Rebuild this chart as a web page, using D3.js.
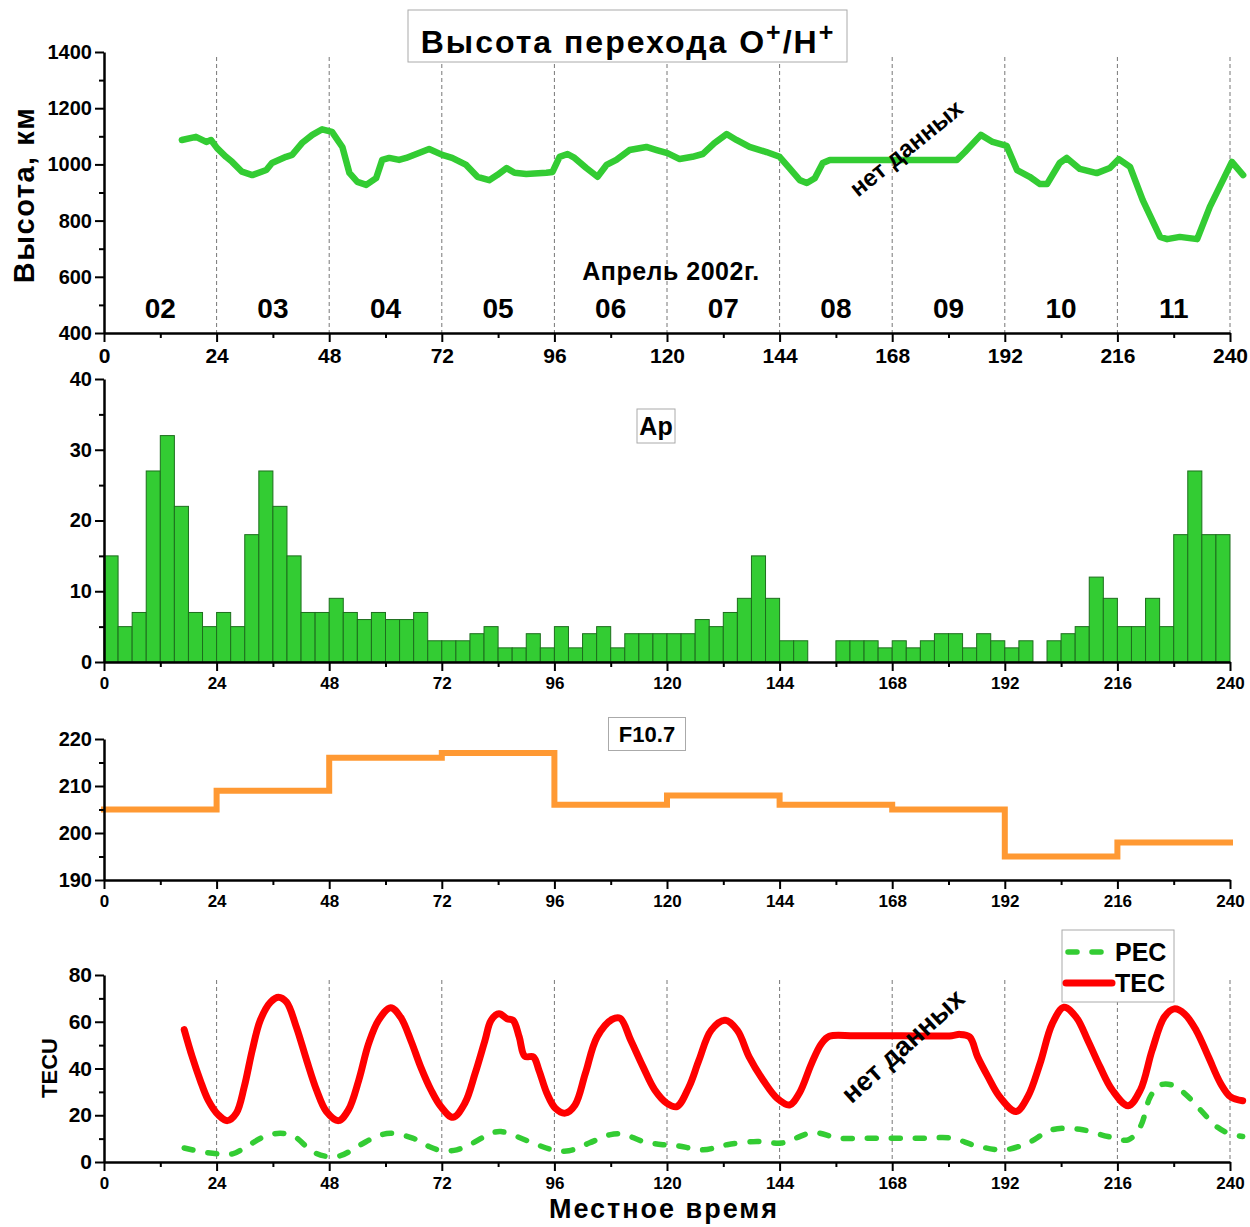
<!DOCTYPE html>
<html>
<head>
<meta charset="utf-8">
<title>Высота перехода O+/H+</title>
<script src="https://d3js.org/d3.v7.min.js"></script>
<style>
    body { margin: 0; background: #fff; }
    text { font-family: "Liberation Sans", Arial, sans-serif; font-weight: bold; fill: #000; }
    .axis path { stroke: #000; stroke-width: 2.5; }
    .axis line { stroke: #000; stroke-width: 2; }
    .grid { stroke: #777; stroke-width: 1; stroke-dasharray: 4,3; }
    .box { fill: #fff; stroke: #aaa; stroke-width: 1; }
</style>
</head>
<body>
<script>
// ось времени (часы от 00 LT 2 апреля)
var xTicks = [0, 24, 48, 72, 96, 120, 144, 168, 192, 216, 240];
var xMinor = [12, 36, 60, 84, 108, 132, 156, 180, 204, 228];
var dayLabels = ["02", "03", "04", "05", "06", "07", "08", "09", "10", "11"];

// высота перехода O+/H+, км
var tranHours = [16.6, 19.6, 21.8, 22.8, 24.1, 26, 27.3, 29.4, 31.6, 34.6, 35.8, 38.8, 40.1, 42.2, 44.4, 46.5, 48.6,
    50.8, 52.3, 54, 55.9, 58, 59.3, 60.8, 62.9, 64.4, 69.3, 72.1, 74.2, 77.2, 79.6, 82.1, 83.8, 85.8, 87.5, 90,
    94.3, 95.6, 97.1, 98.8, 100.3, 102.8, 105.2, 107.1, 109.2, 112, 115.6, 117.8, 120.1, 122.7, 125.4, 127.6,
    130.1, 132.7, 134.8, 137.6, 141.2, 144, 146.1, 148.3, 149.8, 151.5, 153.2, 154.7, 181.8, 183.5, 186.9,
    189.4, 192.4, 194.6, 197.3, 199.5, 201, 203.7, 205.2, 208, 211.6, 214.4, 216.3, 218.7, 221.4, 225.1, 226.6,
    229.3, 233, 235.7, 240.4, 242.8];
var tranHeight = [1087, 1098, 1080, 1087, 1058, 1027, 1009, 974, 962, 980, 1005, 1027, 1034, 1076, 1105, 1125, 1116,
    1062, 970, 938, 927, 951, 1016, 1023, 1016, 1023, 1055, 1034, 1023, 998, 956, 944, 962, 987, 970, 966,
    970, 973, 1027, 1037, 1023, 987, 956, 998, 1016, 1051, 1062, 1051, 1040, 1019, 1027, 1037,
    1076, 1108, 1087, 1062, 1044, 1027, 987, 944, 934, 951, 1005, 1016, 1016, 1044, 1105,
    1080, 1066, 980, 956, 930, 930, 1005, 1023, 984, 969, 987, 1019, 991, 873, 742, 734,
    742, 734, 849, 1009, 962];

// индекс Ap, 3-часовые интервалы
var apStep = 3;
var apValues = [15, 5, 7, 27, 32, 22, 7, 5, 7, 5, 18, 27, 22, 15, 7, 7, 9, 7, 6, 7, 6, 6, 7, 3, 3, 3, 4, 5, 2, 2,
    4, 2, 5, 2, 4, 5, 2, 4, 4, 4, 4, 4, 6, 5, 7, 9, 15, 9, 3, 3, 0, 0, 3, 3, 3, 2, 3, 2, 3, 4,
    4, 2, 4, 3, 2, 3, 0, 3, 4, 5, 12, 9, 5, 5, 9, 5, 18, 27, 18, 18];

// F10.7 по суткам
var f107Hours = [0, 24, 48, 72, 96, 120, 144, 168, 192, 216, 240];
var f107Values = [205, 209, 216, 217, 206, 208, 206, 205, 195, 198, 198];

// TEC и PEC, TECU
var tecHours = [17.1, 18.8, 20.5, 22.2, 24.4, 26.3, 28.2, 29.9, 31.6, 33.3, 35.5, 37.2, 38.9, 41, 43.2, 45.3, 47.4,
    50, 52.1, 54.3, 56.4, 58.5, 61.1, 63.2, 65.4, 67.5, 69.7, 71.8, 74.4, 76.9, 79.1, 81.2, 82.5, 84.2, 85.9,
    87.2, 88.5, 89.7, 91.5, 92.7, 94.4, 96.2, 98.3, 100.4, 102.6, 105.1, 108.3, 110, 112.3, 114.9, 117.4, 120,
    122.1, 124.7, 126.8, 129.4, 132.4, 135, 137.5, 140.5, 143.5, 146.1, 148.2, 150.8, 152.9, 154.6, 160, 170,
    180.7, 182.4, 184.5, 186.2, 188.4, 190.9, 194.4, 196.9, 199.5, 202.1, 204.6, 207.2, 209.7, 212.3, 214.9,
    218.3, 220.9, 223.4, 226, 228.1, 230.3, 232.8, 235.4, 238, 240.1, 242.7];
var tecValues = [56.6, 45, 35, 26.5, 20.1, 17.7, 20.9, 32.2, 47.8, 60.6, 68.4, 70.5, 68.4, 57.7, 43.5, 30.8, 21.6,
    17.7, 22.3, 35, 50.6, 60.6, 66, 62, 52, 40.7, 30.8, 23.7, 19.1, 25.1, 37.9, 52, 60.6, 63.4, 61.3,
    60.6, 53.5, 45.2, 45, 39.3, 29.4, 23, 20.9, 24.4, 37.9, 53.5, 61, 61.5, 52, 40.7, 30.8, 25.1,
    23.7, 32.2, 43.5, 56.3, 60.6, 56.3, 45, 35, 27.2, 24.4, 29.4, 42.1, 50.6, 53.8, 54, 54,
    54, 54.6, 53.5, 45, 36.5, 27.9, 21.6, 27.9, 42.1, 59.1, 66.2, 62, 52, 40.7, 30.8,
    24.1, 30.8, 47.8, 62, 65.5, 63.4, 56.3, 45, 33.6, 27.9, 26.2];
var pecHours = [17.1, 20.5, 24.4, 27.4, 29.9, 34.2, 37.6, 40.6, 44.4, 47.4, 50.4, 54.7, 58.1, 61.1, 65.8, 69.2, 72.2,
    75.2, 78.6, 82.5, 84.6, 88, 92.3, 95.7, 99.1, 103.4, 107.7, 110.5, 114.9, 119.1, 122.1, 127.7, 132.8, 139.2,
    144.4, 147.4, 151.2, 156.8, 162.7, 168.7, 174.7, 180.7, 185.8, 191.8, 196.9, 202.1, 208, 214, 218.3, 220.9,
    223, 225.1, 227.7, 230.3, 233.7, 237.1, 239.7, 242.7];
var pecValues = [6, 4.5, 3.5, 3.5, 6, 10.9, 12.3, 10.9, 4.5, 2.4, 2.7, 7.4, 10.9, 12.3, 10.2, 6.7, 4.8,
    5.2, 8.1, 12.3, 13, 10.9, 7.4, 5.2, 4.8, 8.1, 11.6, 12, 8.8, 7.4, 7, 5.2, 7.4, 8.8,
    8.1, 10.2, 12.6, 10.2, 10.2, 10.2, 10.2, 10.2, 7, 5.2, 8.1, 13.8, 14, 10.9, 9.5, 15.2,
    27.9, 32.9, 32.9, 29.4, 22.3, 15.2, 12.3, 10.9];

var green = "#33cc33", red = "#ff0000", orange = "#ff9933";

var svg = d3.select("body").append("svg")
    .attr("width", 1250)
    .attr("height", 1227);

var x = d3.scaleLinear().domain([0, 240]).range([104, 1230]);

var yTran = d3.scaleLinear().domain([400, 1400]).range([333, 52]);
var yAp = d3.scaleLinear().domain([0, 40]).range([662, 379]);
var yF = d3.scaleLinear().domain([190, 220]).range([880, 739]);
var yTec = d3.scaleLinear().domain([0, 80]).range([1162, 975]);

// оси одной панели
function axes(y, yMajor, yMinor, xFont, yFont) {
    var base = y.range()[0];
    svg.append("g").attr("class", "axis").attr("transform", "translate(0," + base + ")")
        .call(d3.axisBottom(x).tickValues(xMinor).tickSize(5).tickFormat(""))
        .select(".domain").remove();
    var gx = svg.append("g").attr("class", "axis").attr("transform", "translate(0," + base + ")")
        .call(d3.axisBottom(x).tickValues(xTicks).tickSize(9).tickSizeOuter(0).tickPadding(6)
            .tickFormat(d3.format("d")));
    gx.selectAll("text").style("font-size", xFont + "px");

    svg.append("g").attr("class", "axis").attr("transform", "translate(104,0)")
        .call(d3.axisLeft(y).tickValues(yMinor).tickSize(5).tickFormat(""))
        .select(".domain").remove();
    var gy = svg.append("g").attr("class", "axis").attr("transform", "translate(104,0)")
        .call(d3.axisLeft(y).tickValues(yMajor).tickSize(9).tickSizeOuter(0).tickPadding(3)
            .tickFormat(d3.format("d")));
    gy.selectAll("text").style("font-size", yFont + "px");
}

function grid(y0, y1) {
    svg.append("g").selectAll("line")
        .data(xTicks.slice(1))
        .enter().append("line")
        .attr("class", "grid")
        .attr("x1", function(d) { return x(d); })
        .attr("x2", function(d) { return x(d); })
        .attr("y1", y0).attr("y2", y1);
}

function labelBox(cx, cy, w, h, txt, size) {
    svg.append("rect").attr("class", "box")
        .attr("x", cx - w / 2).attr("y", cy - h / 2).attr("width", w).attr("height", h);
    svg.append("text").attr("x", cx).attr("y", cy + size * 0.36)
        .attr("text-anchor", "middle").style("font-size", size + "px").text(txt);
}

// ---------- панель 1: высота перехода ----------
grid(57, 333);

svg.append("rect").attr("class", "box").attr("x", 408).attr("y", 10).attr("width", 439).attr("height", 52);
var title = svg.append("text").attr("x", 628).attr("y", 53).attr("text-anchor", "middle")
    .style("font-size", "32px").style("letter-spacing", "2px");
title.append("tspan").text("Высота перехода O");
title.append("tspan").attr("dy", -12).style("font-size", "25px").text("+");
title.append("tspan").attr("dy", 12).text("/H");
title.append("tspan").attr("dy", -12).style("font-size", "25px").text("+");

svg.append("text").attr("transform", "translate(34,195) rotate(-90)")
    .attr("text-anchor", "middle").style("font-size", "29px").style("letter-spacing", "1.5px")
    .text("Высота, км");

svg.append("g").selectAll("text")
    .data(dayLabels)
    .enter().append("text")
    .attr("x", function(d, i) { return x(12 + 24 * i); })
    .attr("y", 318)
    .attr("text-anchor", "middle")
    .style("font-size", "28px")
    .text(function(d) { return d; });

svg.append("text").attr("x", 671).attr("y", 280).attr("text-anchor", "middle")
    .style("font-size", "25px").style("letter-spacing", "0.5px").text("Апрель 2002г.");

var tranLine = d3.line()
    .x(function(d) { return x(tranHours[d]); })
    .y(function(d) { return yTran(tranHeight[d]); });
svg.append("path")
    .attr("d", tranLine(d3.range(tranHours.length)))
    .attr("fill", "none").attr("stroke", green).attr("stroke-width", 6.5)
    .attr("stroke-linejoin", "round").attr("stroke-linecap", "round");

svg.append("text").attr("transform", "translate(906,148) rotate(-39)")
    .attr("text-anchor", "middle").attr("dominant-baseline", "central")
    .style("font-size", "24px").text("нет данных");

axes(yTran, [400, 600, 800, 1000, 1200, 1400], [500, 700, 900, 1100, 1300], 21, 20);

// ---------- панель 2: Ap ----------
svg.append("g").selectAll("rect")
    .data(apValues)
    .enter().append("rect")
    .attr("x", function(d, i) { return x(i * apStep); })
    .attr("width", function(d, i) { return x((i + 1) * apStep) - x(i * apStep); })
    .attr("y", function(d) { return yAp(d); })
    .attr("height", function(d) { return yAp(0) - yAp(d); })
    .attr("fill", green).attr("stroke", "#1d6e1d").attr("stroke-width", 1);

labelBox(656, 426, 38, 34, "Ap", 25);
axes(yAp, [0, 10, 20, 30, 40], [5, 15, 25, 35], 17, 20);

// ---------- панель 3: F10.7 ----------
var fLine = d3.line().curve(d3.curveStepAfter)
    .x(function(d) { return x(f107Hours[d]); })
    .y(function(d) { return yF(f107Values[d]); });
svg.append("path")
    .attr("d", fLine(d3.range(f107Hours.length)))
    .attr("fill", "none").attr("stroke", orange).attr("stroke-width", 6)
    .attr("stroke-linecap", "square");

labelBox(647, 734, 77, 33, "F10.7", 22);
axes(yF, [190, 200, 210, 220], [195, 205, 215], 17, 20);

// ---------- панель 4: TEC / PEC ----------
grid(980, 1162);

var tecLine = d3.line().curve(d3.curveCatmullRom)
    .x(function(d) { return x(tecHours[d]); })
    .y(function(d) { return yTec(tecValues[d]); });
svg.append("path")
    .attr("d", tecLine(d3.range(tecHours.length)))
    .attr("fill", "none").attr("stroke", red).attr("stroke-width", 7)
    .attr("stroke-linejoin", "round").attr("stroke-linecap", "round");

var pecLine = d3.line().curve(d3.curveCatmullRom)
    .x(function(d) { return x(pecHours[d]); })
    .y(function(d) { return yTec(pecValues[d]); });
svg.append("path")
    .attr("d", pecLine(d3.range(pecHours.length)))
    .attr("fill", "none").attr("stroke", green).attr("stroke-width", 5.5)
    .attr("stroke-dasharray", "9,15").attr("stroke-linecap", "round");

svg.append("text").attr("transform", "translate(903,1046) rotate(-42)")
    .attr("text-anchor", "middle").attr("dominant-baseline", "central")
    .style("font-size", "27px").text("нет данных");

// легенда
svg.append("rect").attr("class", "box").attr("x", 1062).attr("y", 930).attr("width", 112).attr("height", 72);
svg.append("line").attr("x1", 1068).attr("x2", 1104).attr("y1", 952).attr("y2", 952)
    .attr("stroke", green).attr("stroke-width", 5.5).attr("stroke-dasharray", "9,15")
    .attr("stroke-linecap", "round");
svg.append("text").attr("x", 1115).attr("y", 961).style("font-size", "25px").text("PEC");
svg.append("line").attr("x1", 1066).attr("x2", 1112).attr("y1", 983).attr("y2", 983)
    .attr("stroke", red).attr("stroke-width", 7).attr("stroke-linecap", "round");
svg.append("text").attr("x", 1115).attr("y", 992).style("font-size", "25px").text("TEC");

svg.append("text").attr("transform", "translate(57,1068) rotate(-90)")
    .attr("text-anchor", "middle").style("font-size", "22px").text("TECU");
svg.append("text").attr("x", 664).attr("y", 1218).attr("text-anchor", "middle")
    .style("font-size", "27px").style("letter-spacing", "2px").text("Местное время");

axes(yTec, [0, 20, 40, 60, 80], [10, 30, 50, 70], 17, 21);
</script>
</body>
</html>
